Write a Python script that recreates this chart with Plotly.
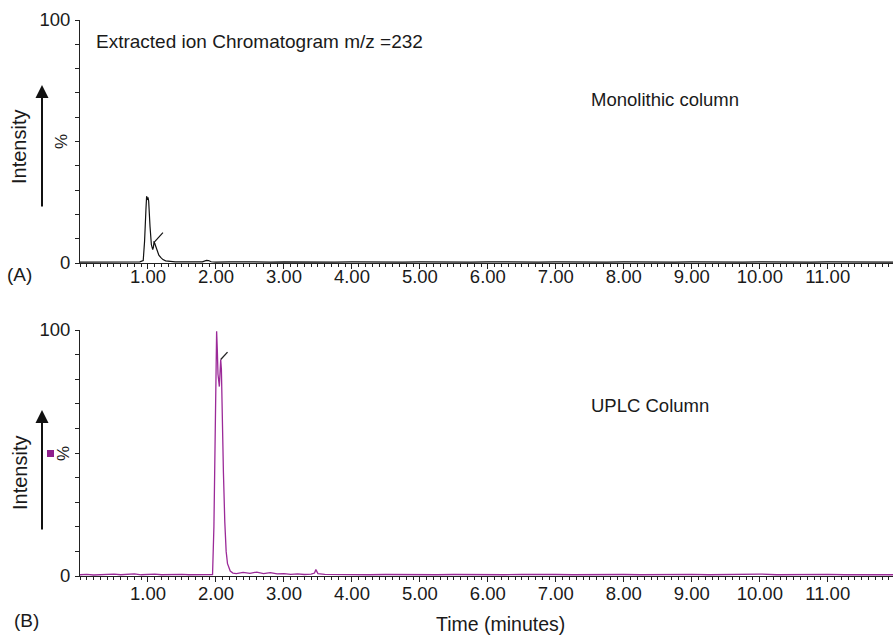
import plotly.graph_objects as go

# ---------------- data ----------------
# Panel A: monolithic column (time in minutes, relative intensity %)
time_a = [0.00, 0.10, 0.20, 0.30, 0.40, 0.50, 0.60, 0.70, 0.80, 0.88, 0.93, 0.95,
          0.97, 0.98, 0.99, 1.00, 1.01, 1.02, 1.03, 1.05, 1.07, 1.08, 1.09, 1.10,
          1.12, 1.14, 1.16, 1.19, 1.22, 1.26, 1.32, 1.40, 1.50, 1.60, 1.70, 1.80,
          1.86, 1.89, 1.93, 2.00, 2.20, 2.40, 2.60, 2.80, 3.00, 3.25, 3.50, 3.75,
          4.00, 4.25, 4.50, 4.75, 5.00, 5.25, 5.50, 5.75, 6.00, 6.25, 6.50, 6.75,
          7.00, 7.25, 7.50, 7.75, 8.00, 8.25, 8.50, 8.75, 9.00, 9.25, 9.50, 9.75,
          10.00, 10.25, 10.50, 10.75, 11.00, 11.25, 11.50, 11.75, 11.96]
int_a = [0.4, 0.4, 0.5, 0.4, 0.4, 0.5, 0.4, 0.5, 0.4, 0.5, 1.0, 9.0,
         22.0, 27.5, 26.0, 27.0, 25.5, 22.0, 15.0, 7.5, 5.5, 6.5, 9.0, 8.0,
         6.5, 4.5, 3.2, 2.2, 1.4, 0.9, 0.7, 0.5, 0.5, 0.4, 0.5, 0.5,
         1.1, 1.0, 0.5, 0.4, 0.5, 0.4, 0.5, 0.4, 0.5, 0.4, 0.5, 0.4,
         0.5, 0.4, 0.5, 0.4, 0.5, 0.4, 0.5, 0.4, 0.5, 0.4, 0.5, 0.4,
         0.5, 0.4, 0.5, 0.4, 0.5, 0.4, 0.5, 0.4, 0.5, 0.4, 0.5, 0.4,
         0.5, 0.4, 0.5, 0.4, 0.5, 0.4, 0.5, 0.4, 0.4]
mark_a_time = [1.10, 1.22]
mark_a_int = [8.8, 12.5]

# Panel B: UPLC column
time_b = [0.00, 0.10, 0.20, 0.30, 0.40, 0.50, 0.60, 0.70, 0.80, 0.90, 1.00, 1.10,
          1.20, 1.30, 1.40, 1.50, 1.60, 1.70, 1.80, 1.90, 1.95, 1.97, 1.99, 2.01,
          2.02, 2.03, 2.05, 2.07, 2.08, 2.09, 2.11, 2.13, 2.15, 2.17, 2.19, 2.21,
          2.25, 2.30, 2.40, 2.50, 2.60, 2.70, 2.80, 2.90, 3.00, 3.10, 3.20, 3.30,
          3.40, 3.45, 3.47, 3.50, 3.60, 3.80, 4.00, 4.25, 4.50, 4.75, 5.00, 5.25,
          5.50, 5.75, 6.00, 6.25, 6.50, 6.75, 7.00, 7.25, 7.50, 7.75, 8.00, 8.25,
          8.50, 8.75, 9.00, 9.25, 9.50, 9.75, 10.00, 10.25, 10.50, 10.75, 11.00,
          11.25, 11.50, 11.75, 11.96]
int_b = [0.5, 0.7, 0.4, 0.6, 0.5, 0.8, 0.5, 0.6, 0.9, 0.5, 0.6, 0.8,
         0.5, 0.6, 0.5, 0.7, 0.5, 0.6, 0.5, 0.7, 0.6, 20.0, 70.0, 99.5,
         92.0, 82.0, 77.0, 88.0, 84.0, 65.0, 42.0, 22.0, 10.0, 5.0, 3.0, 2.0,
         1.2, 1.0, 1.5, 1.1, 1.6, 1.0, 1.4, 0.9, 1.0, 0.7, 0.9, 0.6,
         0.8, 1.2, 2.6, 1.0, 0.7, 0.6, 0.7, 0.5, 0.6, 0.5, 0.7, 0.5,
         0.6, 0.5, 0.6, 0.5, 0.7, 0.5, 0.6, 0.5, 0.6, 0.5, 0.6, 0.5,
         0.6, 0.5, 0.7, 0.5, 0.6, 0.5, 0.8, 0.5, 0.6, 0.5, 0.7,
         0.5, 0.6, 0.5, 0.5]
mark_b_time = [2.07, 2.17]
mark_b_int = [88.0, 91.0]

x_tick_vals = [1, 2, 3, 4, 5, 6, 7, 8, 9, 10, 11]
x_tick_text = ["1.00", "2.00", "3.00", "4.00", "5.00", "6.00", "7.00", "8.00",
               "9.00", "10.00", "11.00"]
y_tick_vals = [0, 10, 20, 30, 40, 50, 60, 70, 80, 90, 100]
y_tick_text = ["0", "", "", "", "", "", "", "", "", "", "100"]

# ---------------- layout helpers ----------------
W, H = 893, 636
FONT = "Liberation Sans, Arial, Helvetica, sans-serif"
TXT = "#1a1a1a"
PURPLE = "#9b2a98"


def px(x):
    return x / W


def py(y):
    return 1 - y / H


fig = go.Figure()
fig.add_trace(go.Scatter(x=time_a, y=int_a, mode="lines", xaxis="x", yaxis="y",
                         line=dict(color="#111111", width=1.2), showlegend=False))
fig.add_trace(go.Scatter(x=mark_a_time, y=mark_a_int, mode="lines", xaxis="x", yaxis="y",
                         line=dict(color="#111111", width=1.2), showlegend=False))
fig.add_trace(go.Scatter(x=time_b, y=int_b, mode="lines", xaxis="x2", yaxis="y2",
                         line=dict(color=PURPLE, width=1.3), showlegend=False))
fig.add_trace(go.Scatter(x=mark_b_time, y=mark_b_int, mode="lines", xaxis="x2", yaxis="y2",
                         line=dict(color="#222222", width=1.3), showlegend=False))


def xaxis_cfg(standoff):
    return dict(range=[0, 11.96], tickmode="array", tickvals=x_tick_vals,
                ticktext=x_tick_text, ticks="outside", ticklen=5, tickwidth=1,
                tickcolor="#222", showline=True, linecolor="#222", linewidth=1,
                showgrid=False, zeroline=False, ticklabelstandoff=standoff,
                automargin=False,
                tickfont=dict(family=FONT, size=18.5, color=TXT),
                minor=dict(ticks="outside", ticklen=3, tickwidth=1, tickcolor="#222",
                           dtick=0.1, tick0=0, showgrid=False))


ycommon = dict(range=[0, 100], tickmode="array", tickvals=y_tick_vals,
               ticktext=y_tick_text, ticks="outside", ticklen=4, tickwidth=1,
               tickcolor="#222", showline=True, linecolor="#222", linewidth=1,
               showgrid=False, zeroline=False, ticklabelstandoff=1,
               automargin=False,
               tickfont=dict(family=FONT, size=18.5, color=TXT))

x0 = px(80)
fig.update_layout(
    width=W, height=H,
    margin=dict(l=0, r=0, t=0, b=0, autoexpand=False),
    paper_bgcolor="white", plot_bgcolor="white",
    xaxis=dict(domain=[x0, 1], anchor="y", **xaxis_cfg(-8)),
    yaxis=dict(domain=[py(263), py(20)], anchor="x", **ycommon),
    xaxis2=dict(domain=[x0, 1], anchor="y2", **xaxis_cfg(-4)),
    yaxis2=dict(domain=[py(576), py(330)], anchor="x2", **ycommon),
)

ann = []


def text(x, y, s, size=18, xanchor="left", angle=0):
    ann.append(dict(x=px(x), y=py(y), xref="paper", yref="paper", text=s,
                    showarrow=False, xanchor=xanchor, yanchor="middle",
                    textangle=angle, font=dict(family=FONT, size=size, color=TXT)))


text(94, 42, "Extracted ion Chromatogram m/z =232", 19)
text(589, 100, "Monolithic column", 18.5)
text(589, 405, "UPLC Column", 18.5)
text(500, 624, "Time (minutes)", 19.5, xanchor="center")
text(19, 274, "(A)", 19, xanchor="center")
text(26, 620, "(B)", 19, xanchor="center")
text(19, 147, "Intensity", 20, xanchor="center", angle=-90)
text(20, 473, "Intensity", 20, xanchor="center", angle=-90)
text(61, 141, "%", 17, xanchor="center", angle=-90)
text(63, 453, "%", 17, xanchor="center", angle=-90)

# arrows
for tip_y, tail_y in [(85, 208), (410, 531)]:
    ann.append(dict(x=px(42), y=py(tip_y), xref="paper", yref="paper",
                    ax=0, ay=tail_y - tip_y, axref="pixel", ayref="pixel",
                    showarrow=True, arrowhead=2, arrowsize=1.3, arrowwidth=2,
                    arrowcolor="#111", text=""))

fig.update_layout(annotations=ann)
fig.add_shape(type="rect", xref="paper", yref="paper",
              x0=px(47), x1=px(54), y0=py(457), y1=py(450),
              fillcolor="#8e1f8c", line=dict(width=0))

fig.write_html("out.html")
